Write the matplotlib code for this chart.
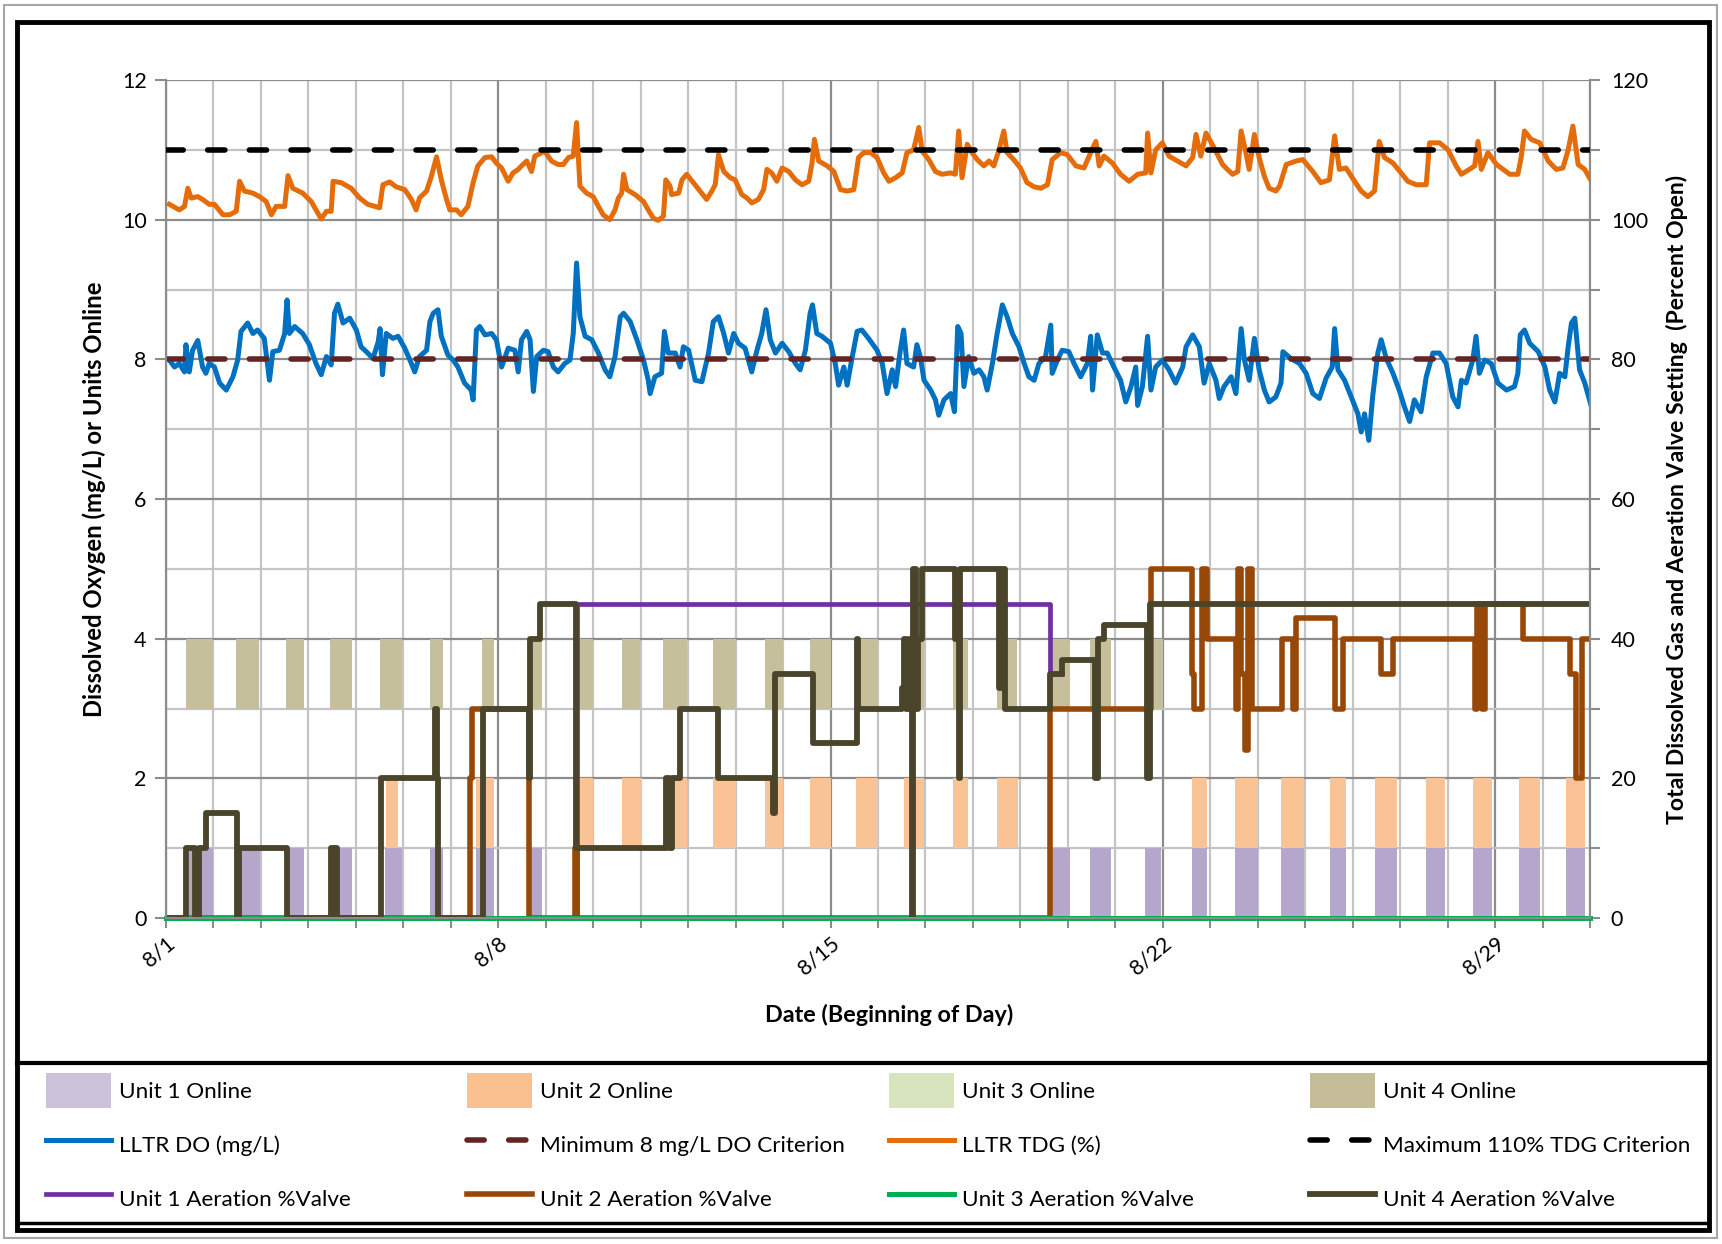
import matplotlib
matplotlib.use("Agg")
import matplotlib.pyplot as plt
from matplotlib.patches import Patch, Rectangle
from matplotlib.lines import Line2D
from matplotlib.ticker import MultipleLocator, FixedLocator

plt.rcParams['font.family'] = ['Lato', 'DejaVu Sans']

# ---- data (x = days since 8/1 00:00) ----
xtick_pos = [0, 7, 14, 21, 28]
xtick_labels = ['8/1', '8/8', '8/15', '8/22', '8/29']

do_criterion = 8      # mg/L
tdg_criterion = 110   # %

tdg_day = [0.07, 0.28, 0.39, 0.46, 0.53, 0.67, 0.77, 0.91, 1.02, 1.2, 1.34, 1.48, 1.55, 1.65, 1.83, 1.97,
           2.11, 2.22, 2.32, 2.5, 2.57, 2.67, 2.88, 3.06, 3.16, 3.27, 3.38, 3.48, 3.52, 3.69, 3.9, 4.08,
           4.25, 4.5, 4.57, 4.71, 4.85, 5.03, 5.17, 5.27, 5.34, 5.49, 5.59, 5.7, 5.8, 5.91, 5.98, 6.12,
           6.22, 6.36, 6.47, 6.57, 6.72, 6.86, 6.96, 7.07, 7.21, 7.31, 7.42, 7.49, 7.6, 7.7, 7.77, 7.98,
           8.12, 8.26, 8.37, 8.48, 8.58, 8.65, 8.72, 8.86, 9.0, 9.11, 9.21, 9.35, 9.46, 9.53, 9.6, 9.64,
           9.71, 9.88, 10.06, 10.16, 10.27, 10.37, 10.48, 10.53, 10.62, 10.65, 10.8, 10.87, 10.97, 11.11,
           11.25, 11.39, 11.5, 11.57, 11.64, 11.75, 11.89, 11.99, 12.13, 12.24, 12.34, 12.48, 12.59, 12.66,
           12.76, 12.87, 12.98, 13.12, 13.26, 13.4, 13.54, 13.61, 13.66, 13.75, 13.93, 14.07, 14.21, 14.35,
           14.49, 14.59, 14.7, 14.84, 14.98, 15.12, 15.23, 15.37, 15.51, 15.61, 15.75, 15.86, 15.93, 16.07,
           16.21, 16.35, 16.53, 16.63, 16.7, 16.77, 16.88, 16.98, 17.09, 17.23, 17.34, 17.44, 17.55, 17.65,
           17.72, 17.86, 18.0, 18.14, 18.29, 18.43, 18.57, 18.67, 18.85, 18.99, 19.17, 19.34, 19.48, 19.59,
           19.66, 19.76, 19.94, 20.11, 20.29, 20.47, 20.64, 20.68, 20.75, 20.85, 20.99, 21.13, 21.31, 21.49,
           21.63, 21.7, 21.8, 21.91, 22.08, 22.26, 22.36, 22.47, 22.58, 22.65, 22.75, 22.82, 22.93, 23.03,
           23.14, 23.24, 23.38, 23.46, 23.6, 23.81, 23.95, 24.16, 24.33, 24.51, 24.62, 24.72, 24.86, 25.04,
           25.18, 25.32, 25.46, 25.56, 25.67, 25.85, 26.02, 26.16, 26.34, 26.55, 26.62, 26.83, 27.01, 27.18,
           27.29, 27.46, 27.57, 27.64, 27.71, 27.85, 28.03, 28.17, 28.31, 28.48, 28.55, 28.62, 28.76, 28.94,
           29.12, 29.29, 29.43, 29.54, 29.64, 29.75, 29.89, 30.03]
tdg_val = [102.2, 101.4, 101.9, 104.5, 103.1, 103.3, 102.9, 102.2, 102.2, 100.7, 100.7, 101.2, 105.5, 104.1,
           103.8, 103.3, 102.6, 100.7, 101.9, 101.9, 106.3, 104.5, 103.8, 102.6, 101.4, 100.1, 101.2, 101.2,
           105.5, 105.3, 104.5, 103.1, 102.2, 101.7, 105.0, 105.4, 104.7, 104.3, 102.9, 101.4, 103.1, 104.1,
           106.2, 109.0, 105.7, 102.9, 101.4, 101.4, 100.7, 101.9, 105.3, 107.7, 108.9, 109.0, 108.1, 107.4,
           105.5, 106.7, 107.2, 107.7, 108.4, 106.9, 109.1, 109.8, 108.4, 107.9, 107.9, 108.9, 109.1, 113.9,
           104.8, 103.8, 103.3, 101.9, 100.7, 100.0, 101.4, 103.1, 103.8, 106.5, 104.3, 103.6, 102.6, 101.4,
           100.2, 99.9, 100.5, 105.7, 104.8, 103.6, 103.8, 105.7, 106.5, 105.3, 104.1, 102.9, 104.1, 105.0,
           109.3, 106.9, 106.0, 105.7, 103.6, 103.1, 102.4, 102.9, 104.3, 107.2, 106.7, 105.5, 107.4, 106.9,
           105.7, 105.0, 105.5, 108.1, 111.5, 108.4, 107.7, 106.9, 104.3, 104.1, 104.3, 108.9, 109.6, 109.6,
           108.9, 106.7, 105.5, 106.0, 106.7, 109.6, 110.0, 113.2, 109.8, 108.6, 106.9, 106.5, 106.7, 106.5,
           112.7, 106.0, 110.8, 109.6, 108.6, 107.7, 108.4, 107.7, 110.0, 112.7, 109.6, 108.6, 107.4, 105.3,
           104.7, 104.5, 105.0, 108.6, 109.6, 109.3, 107.7, 107.4, 109.6, 111.2, 107.7, 109.1, 108.1, 106.5,
           105.5, 106.5, 106.7, 112.4, 106.7, 110.0, 111.0, 109.1, 108.4, 107.7, 108.9, 112.2, 109.1, 112.4,
           110.3, 107.9, 107.2, 106.5, 106.9, 112.7, 109.6, 107.2, 112.2, 108.9, 106.2, 104.5, 104.1, 104.8,
           107.9, 108.4, 108.6, 106.9, 105.3, 105.7, 112.0, 107.2, 107.4, 105.5, 104.1, 103.3, 104.1, 111.2,
           108.9, 108.1, 106.7, 105.5, 105.0, 105.0, 111.0, 111.0, 110.0, 107.7, 106.5, 107.2, 107.7, 111.2,
           107.2, 109.6, 107.9, 107.2, 106.5, 106.5, 108.9, 112.7, 111.5, 111.0, 108.4, 107.2, 107.4, 110.0,
           113.4, 107.9, 107.2, 105.5]

do_day = [0.07, 0.18, 0.28, 0.39, 0.42, 0.49, 0.56, 0.67, 0.77, 0.84, 0.91, 1.02, 1.13, 1.27, 1.41, 1.51,
          1.58, 1.72, 1.83, 1.93, 2.07, 2.18, 2.25, 2.39, 2.5, 2.55, 2.6, 2.71, 2.88, 3.02, 3.16, 3.27,
          3.38, 3.48, 3.55, 3.62, 3.73, 3.87, 4.01, 4.11, 4.25, 4.36, 4.47, 4.51, 4.56, 4.64, 4.78, 4.89,
          5.03, 5.17, 5.24, 5.34, 5.49, 5.56, 5.63, 5.73, 5.8, 5.94, 6.05, 6.15, 6.29, 6.43, 6.47, 6.54,
          6.61, 6.72, 6.86, 6.96, 7.07, 7.21, 7.35, 7.42, 7.49, 7.6, 7.67, 7.74, 7.81, 7.95, 8.05, 8.16,
          8.26, 8.4, 8.51, 8.58, 8.65, 8.72, 8.83, 8.97, 9.11, 9.25, 9.35, 9.46, 9.57, 9.64, 9.78, 9.92,
          10.06, 10.16, 10.2, 10.3, 10.44, 10.5, 10.58, 10.73, 10.83, 10.9, 11.01, 11.15, 11.29, 11.43,
          11.53, 11.64, 11.75, 11.85, 11.96, 12.06, 12.2, 12.34, 12.45, 12.55, 12.64, 12.73, 12.84, 12.98,
          13.12, 13.26, 13.36, 13.47, 13.57, 13.62, 13.71, 13.82, 14.0, 14.1, 14.17, 14.28, 14.35, 14.45,
          14.56, 14.66, 14.8, 14.98, 15.09, 15.19, 15.3, 15.37, 15.47, 15.54, 15.61, 15.75, 15.82, 15.89,
          15.97, 16.11, 16.21, 16.28, 16.39, 16.53, 16.61, 16.68, 16.75, 16.81, 16.91, 17.02, 17.13, 17.23,
          17.3, 17.41, 17.51, 17.62, 17.72, 17.83, 17.97, 18.08, 18.18, 18.29, 18.39, 18.53, 18.64, 18.67,
          18.78, 18.88, 19.02, 19.13, 19.27, 19.41, 19.48, 19.52, 19.62, 19.73, 19.83, 19.97, 20.11, 20.22,
          20.33, 20.43, 20.47, 20.57, 20.68, 20.75, 20.85, 20.99, 21.13, 21.27, 21.42, 21.49, 21.63, 21.77,
          21.87, 21.98, 22.12, 22.19, 22.29, 22.44, 22.54, 22.65, 22.72, 22.82, 22.93, 23.03, 23.14, 23.24,
          23.38, 23.49, 23.53, 23.7, 23.88, 24.02, 24.16, 24.3, 24.44, 24.57, 24.62, 24.69, 24.83, 24.97,
          25.11, 25.18, 25.25, 25.34, 25.42, 25.53, 25.6, 25.71, 25.85, 25.99, 26.09, 26.2, 26.3, 26.44,
          26.55, 26.69, 26.83, 26.97, 27.11, 27.22, 27.29, 27.39, 27.53, 27.6, 27.67, 27.78, 27.92, 28.06,
          28.24, 28.41, 28.48, 28.53, 28.62, 28.73, 28.91, 29.05, 29.15, 29.26, 29.36, 29.47, 29.54, 29.61,
          29.68, 29.78, 29.89, 30.03]
do_val = [7.99, 7.89, 7.94, 7.82, 8.21, 7.82, 8.13, 8.27, 7.89, 7.8, 7.94, 7.89, 7.66, 7.56, 7.75, 7.99,
          8.4, 8.52, 8.37, 8.42, 8.3, 7.7, 8.11, 8.13, 8.37, 8.85, 8.37, 8.47, 8.37, 8.21, 7.94, 7.78,
          8.04, 7.92, 8.66, 8.79, 8.52, 8.59, 8.42, 8.18, 8.09, 8.01, 8.25, 8.44, 7.78, 8.37, 8.3, 8.33,
          8.16, 7.94, 7.82, 8.04, 8.13, 8.54, 8.66, 8.71, 8.33, 8.06, 7.99, 7.89, 7.66, 7.56, 7.42, 8.42,
          8.47, 8.35, 8.37, 8.28, 7.89, 8.16, 8.13, 7.82, 8.28, 8.4, 8.28, 7.54, 8.04, 8.13, 8.11, 7.89,
          7.82, 7.94, 7.99, 8.37, 9.38, 8.61, 8.33, 8.28, 8.09, 7.85, 7.75, 8.04, 8.61, 8.66, 8.54, 8.28,
          7.99, 7.7, 7.51, 7.75, 7.8, 8.4, 8.09, 8.09, 7.89, 8.18, 8.13, 7.7, 7.68, 8.09,
          8.54, 8.61, 8.37, 8.09, 8.37, 8.23, 8.16, 7.82, 8.13, 8.37, 8.71, 8.28, 8.09, 8.23,
          8.11, 7.94, 7.85, 8.13, 8.66, 8.78, 8.37, 8.33, 8.23, 7.94, 7.63, 7.89, 7.63, 8.01,
          8.4, 8.42, 8.3, 8.13, 7.94, 7.51, 7.85, 7.61, 8.13, 8.42, 7.94, 7.89, 8.21, 8.04,
          7.7, 7.56, 7.42, 7.2, 7.42, 7.51, 7.25, 8.47, 8.37, 7.61, 8.04, 7.8, 7.85, 7.75,
          7.56, 7.94, 8.37, 8.78, 8.61, 8.37, 8.18, 7.94, 7.75, 7.7, 7.94, 8.04, 8.49, 7.8,
          7.99, 8.13, 8.11, 7.94, 7.75, 7.94, 8.33, 7.56, 8.35, 8.09, 8.09, 7.89, 7.7, 7.39,
          7.61, 7.89, 7.34, 7.61, 8.33, 7.56, 7.89, 7.99, 7.85, 7.66, 7.89, 8.18, 8.35, 8.18,
          7.66, 7.94, 7.7, 7.44, 7.61, 7.75, 7.51, 8.44, 7.99, 7.7, 8.3, 7.85, 7.56, 7.39,
          7.46, 7.66, 8.11, 8.01, 7.94, 7.8, 7.51, 7.44, 7.73, 7.89, 8.44, 7.85, 7.7, 7.46,
          7.22, 6.96, 7.22, 6.84, 7.46, 8.09, 8.28, 8.01, 7.8, 7.54, 7.32, 7.11, 7.42, 7.25,
          7.75, 8.09, 8.09, 7.94, 7.46, 7.32, 7.7, 7.66, 7.99, 8.33, 7.8, 7.99, 7.94, 7.66,
          7.56, 7.61, 7.8, 8.35, 8.42, 8.23, 8.11, 7.89, 7.56, 7.39, 7.8, 7.75, 8.18, 8.52,
          8.59, 7.85, 7.66, 7.32]

# unit online periods (start day, end day)
unit1_on = [(0.49, 0.98), (1.55, 1.97), (2.57, 2.9), (3.59, 3.92), (4.61, 4.97), (5.57, 5.84),
            (6.53, 6.91), (7.67, 7.93), (18.62, 19.04), (19.46, 19.9), (20.62, 20.97), (21.62, 21.94),
            (22.52, 23.0), (23.49, 23.98), (24.53, 24.86), (25.48, 25.93), (26.55, 26.95),
            (27.53, 27.93), (28.5, 28.94), (29.5, 29.89)]
unit2_on = [(4.64, 4.89), (6.53, 6.91), (8.68, 8.99), (9.6, 10.02), (10.68, 10.98), (11.53, 12.01),
            (12.62, 12.99), (13.57, 14.0), (14.54, 15.01), (15.54, 15.96), (16.59, 16.89), (17.5, 17.95),
            (21.62, 21.94), (22.52, 23.0), (23.49, 23.98), (24.53, 24.86), (25.48, 25.93),
            (26.55, 26.95), (27.53, 27.93), (28.5, 28.94), (29.5, 29.89)]
unit3_on = []
unit4_on = [(0.42, 0.98), (1.48, 1.95), (2.53, 2.9), (3.46, 3.92), (4.51, 4.97), (5.57, 5.84),
            (6.66, 6.91), (7.67, 7.93), (8.65, 8.99), (9.6, 9.99), (10.47, 10.98), (11.53, 12.01),
            (12.62, 12.99), (13.57, 14.0), (14.59, 15.01), (15.54, 15.96), (16.59, 16.89), (17.5, 17.93),
            (18.62, 19.04), (19.46, 19.9), (20.64, 21.0)]

# aeration valve settings (% open), step changes
a1_t = [0.0, 8.65, 18.63, 18.88]
a1_v = [0, 45, 35, 35]
a2_t = [0.0, 6.4, 6.45, 7.65, 8.61, 8.65, 18.63, 20.76, 21.62, 21.66, 21.83, 21.94, 22.54, 22.58,
        22.64, 22.74, 22.8, 22.88, 23.52, 23.75, 23.8, 24.63, 24.8, 25.6, 25.84, 27.57, 27.62, 27.72,
        27.78, 28.59, 29.57, 29.7, 29.84, 30.05]
a2_v = [0, 20, 30, 0, 10, 0, 30, 50, 35, 30, 50, 40, 30, 50,
        35, 24, 50, 30, 40, 30, 43, 30, 40, 35, 40, 30, 45, 30,
        45, 40, 35, 20, 40, 40]
a3_t = [0.0, 30.0]
a3_v = [0, 0]
a4_t = [0.04, 0.42, 0.62, 0.7, 0.84, 1.49, 1.53, 2.54, 3.47, 3.52, 3.55, 3.6, 4.54, 5.66, 5.7, 5.72,
        6.68, 7.64, 7.67, 7.88, 8.63, 10.54, 10.6, 10.66, 10.82, 11.63, 12.79, 12.84, 13.64, 14.55,
        14.58, 15.5, 15.55, 15.6, 15.65, 15.72, 15.74, 15.8, 15.85, 15.92, 16.63, 16.7, 16.73, 17.55,
        17.6, 17.68, 18.63, 18.88, 19.58, 19.63, 19.76, 20.67, 20.74, 30.05]
a4_v = [0, 10, 0, 10, 15, 0, 10, 0, 10, 0, 10, 0, 20, 30, 20, 0,
        30, 20, 40, 45, 10, 20, 10, 20, 30, 20, 15, 35, 25, 40,
        30, 33, 40, 30, 40, 0, 50, 30, 40, 50, 40, 20, 50, 33,
        50, 30, 35, 37, 20, 40, 42, 20, 45, 45]

# ---- figure ----
W, H = 1722, 1244
fig = plt.figure(figsize=(W / 100, H / 100), dpi=100)
ax = fig.add_axes([166 / W, 1 - 918 / H, 1424 / W, 838 / H])
ax2 = ax.twinx()

c_on = ['#b5a6cb', '#f9c396', '#d7e4bd', '#c5bf9b']
c_leg = ['#ccc1da', '#fac090', '#d7e4bd', '#c4bd97']
for base, (periods, col) in enumerate(zip([unit1_on, unit2_on, unit3_on, unit4_on], c_on)):
    if periods:
        ax.bar([a for a, b in periods], 1, width=[b - a for a, b in periods], bottom=base,
               align='edge', color=col, lw=0, zorder=1)

dash = (3.1, 4.4)
l_do, = ax.plot(do_day, do_val, color='#0070c0', lw=3.6, zorder=3, solid_joinstyle='round')
l_docrit = ax.axhline(do_criterion, color='#632523', lw=4, dashes=dash,
                      dash_capstyle='round', zorder=4)

l_a1, = ax2.plot(a1_t, a1_v, drawstyle='steps-post', color='#7030a0', lw=3.4, zorder=2)
l_a2, = ax2.plot(a2_t, a2_v, drawstyle='steps-post', color='#974706', lw=4, zorder=2)
l_a3, = ax2.plot(a3_t, a3_v, drawstyle='steps-post', color='#00b050', lw=3.6, zorder=2,
                 clip_on=False)
l_a4, = ax2.plot(a4_t, a4_v, drawstyle='steps-post', color='#4a452a', lw=4.2, zorder=2)
l_tdg, = ax2.plot(tdg_day, tdg_val, color='#e46c0a', lw=3.6, zorder=3, solid_joinstyle='round')
l_tdgcrit = ax2.axhline(tdg_criterion, color='black', lw=4, dashes=dash,
                        dash_capstyle='round', zorder=4)

ax.set_xlim(0, 30)
ax.set_ylim(0, 12)
ax2.set_ylim(0, 120)

grid_dark, grid_light, spine_c = '#8c8c8c', '#c4c4c4', '#8c8c8c'
ax.xaxis.set_major_locator(FixedLocator(xtick_pos))
ax.xaxis.set_minor_locator(MultipleLocator(1))
ax.yaxis.set_major_locator(MultipleLocator(2))
ax.yaxis.set_minor_locator(MultipleLocator(1))
ax.set_axisbelow(True)
ax.grid(which='major', color=grid_dark, lw=1.6)
ax.grid(which='minor', color=grid_light, lw=1.6)

ax.set_xticklabels(xtick_labels, rotation=40, ha='right', va='top', rotation_mode='anchor')
ax.tick_params(axis='x', which='both', direction='out', length=7, width=1.5, color=spine_c,
               labelsize=15.5, pad=4)
ax.tick_params(axis='y', which='major', direction='out', length=8, width=1.5, color=spine_c,
               labelsize=15.5, pad=6)
ax.tick_params(axis='y', which='minor', length=0)

ax2.yaxis.set_major_locator(MultipleLocator(20))
ax2.yaxis.set_minor_locator(MultipleLocator(10))
ax2.tick_params(axis='y', which='both', direction='out', length=7, width=1.5, color=spine_c,
                labelsize=15.5, pad=8)

for a in (ax, ax2):
    a.spines['top'].set_visible(False)
    for s in ('left', 'right', 'bottom'):
        a.spines[s].set_color(spine_c)
        a.spines[s].set_linewidth(1.5)

ax.set_xlabel('Date (Beginning of Day)', fontsize=16.8, fontweight='bold')
ax.xaxis.set_label_coords(0.508, -0.103)
ax.set_ylabel('Dissolved Oxygen (mg/L) or Units Online', fontsize=17.2, fontweight='bold')
ax.yaxis.set_label_coords(-0.042, 0.5)
ax2.set_ylabel('Total Dissolved Gas and Aeration Valve Setting  (Percent Open)',
               fontsize=16.6, fontweight='bold')
ax2.yaxis.set_label_coords(1.053, 0.5)

# ---- frames ----
def fx(x):
    return x / W


def fy(y):
    return 1 - y / H


fig.add_artist(Rectangle((fx(4), fy(1238)), fx(1713), (1233) / H, fill=False,
                         edgecolor='#a6a6a6', lw=1.5, transform=fig.transFigure))
fig.add_artist(Rectangle((fx(17), fy(1230)), fx(1692), (1208) / H, fill=False,
                         edgecolor='black', lw=3.5, transform=fig.transFigure))
fig.add_artist(Line2D([fx(17), fx(1709)], [fy(1063), fy(1063)], color='black', lw=3,
                      transform=fig.transFigure))
fig.add_artist(Line2D([fx(17), fx(1709)], [fy(1223), fy(1223)], color='black', lw=2.5,
                      transform=fig.transFigure))

# ---- legend: four columns ----
p = [Patch(facecolor=c, edgecolor='none') for c in c_leg]
columns = [
    ([p[0], l_do, l_a1], ['Unit 1 Online', 'LLTR DO (mg/L)', 'Unit 1 Aeration %Valve']),
    ([p[1], l_docrit, l_a2], ['Unit 2 Online', 'Minimum 8 mg/L DO Criterion', 'Unit 2 Aeration %Valve']),
    ([p[2], l_tdg, l_a3], ['Unit 3 Online', 'LLTR TDG (%)', 'Unit 3 Aeration %Valve']),
    ([p[3], l_tdgcrit, l_a4], ['Unit 4 Online', 'Maximum 110% TDG Criterion', 'Unit 4 Aeration %Valve']),
]
for x0, (hs, labs) in zip([46, 467, 889, 1310], columns):
    fig.legend(hs, labs, loc='upper left', bbox_to_anchor=(fx(x0), fy(1073)), frameon=False,
               fontsize=16.2, handlelength=2.9, handleheight=2.0, handletextpad=0.35,
               labelspacing=0.87, borderpad=0, borderaxespad=0)

fig.savefig('out.png', dpi=100, facecolor='white')
